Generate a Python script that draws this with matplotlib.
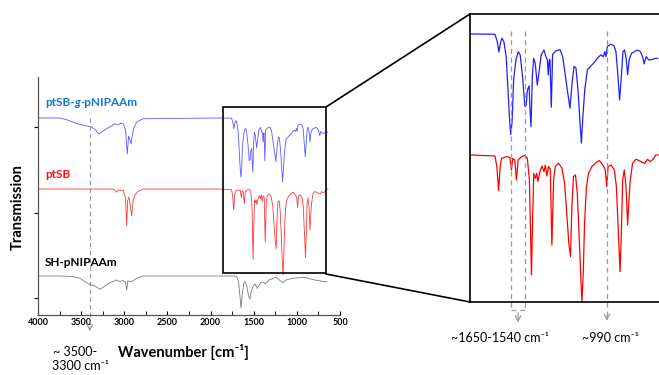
import matplotlib
matplotlib.use("Agg")
import matplotlib.pyplot as plt
from matplotlib.patches import Rectangle
from matplotlib.lines import Line2D

plt.rcParams["font.family"] = ["Lato", "DejaVu Sans"]

# spectra: wavenumber [cm-1] and relative transmission (%), baseline = 100
blue_wn = [4000, 3745, 3668, 3547, 3475, 3378, 3330, 3300, 3260, 3204, 3107, 3070,
           3040, 3010, 2985, 2965, 2950, 2940, 2922, 2905, 2890, 2856, 2780, 1928,
           1757, 1741, 1730, 1719, 1709, 1696, 1680, 1669, 1658, 1649, 1640, 1629,
           1613, 1597, 1584, 1568, 1552, 1543, 1535, 1523, 1517, 1510, 1501, 1492,
           1481, 1467, 1453, 1440, 1421, 1408, 1398, 1392, 1386, 1380, 1371, 1362,
           1341, 1311, 1293, 1277, 1261, 1243, 1229, 1215, 1202, 1188, 1174, 1165,
           1156, 1142, 1124, 1101, 1078, 1055, 1032, 1014, 1005, 996, 987, 964,
           941, 928, 914, 903, 891, 880, 869, 857, 848, 837, 821, 801,
           782, 760, 746, 735, 721, 703, 680, 658, 642]
blue_t = [100, 100, 98.3, 94.3, 92.7, 91, 88, 84, 86, 89.3, 94.3, 93,
          95, 94, 88, 64, 82, 80, 74, 84, 90, 96, 99.3, 100,
          99.8, 95.5, 89.4, 94.8, 97.5, 95.5, 86.7, 69, 51.5, 41, 48, 73,
          85, 89.6, 87.7, 75, 57.4, 58, 67, 69.5, 55.4, 45.6, 75, 85.7,
          82.8, 70, 79, 87.7, 90.6, 86.7, 84.8, 76, 84, 85, 57, 88,
          90, 90.8, 86.7, 77, 67, 56.4, 71, 81, 80, 67, 47.6, 36,
          49.5, 67, 79, 81, 83.2, 85.7, 87.7, 86.7, 89.6, 86.7, 92.6, 94,
          93, 89.6, 75, 61.3, 75, 89.6, 90.6, 85, 76, 85, 88.7, 89.6,
          90.6, 89.6, 86.7, 82.4, 86.7, 84.7, 85, 85.7, 85.7]

red_wn = [4000, 3130, 3100, 3088, 3075, 3010, 2985, 2972, 2962, 2945, 2925, 2914,
          2900, 2876, 2850, 2818, 2780, 1928, 1757, 1744, 1732, 1721, 1712, 1678,
          1655, 1644, 1635, 1621, 1610, 1598, 1576, 1553, 1535, 1521, 1507, 1498,
          1491, 1480, 1471, 1462, 1449, 1435, 1421, 1412, 1401, 1390, 1378, 1367,
          1355, 1344, 1321, 1298, 1280, 1262, 1251, 1239, 1230, 1219, 1205, 1193,
          1180, 1168, 1161, 1152, 1143, 1130, 1116, 1093, 1064, 1041, 1018, 1002,
          991, 982, 961, 939, 925, 911, 900, 891, 882, 871, 859, 848,
          839, 830, 814, 791, 769, 746, 730, 712, 694, 673, 655, 639]
red_t = [100, 100, 98, 96.7, 99, 98.5, 90, 63, 88, 92, 80, 73,
         88, 94, 97, 98.5, 100, 100, 99.4, 93.2, 79.1, 93.2, 98, 99,
         98.6, 91.2, 98, 97, 85.3, 97, 99, 99.6, 98, 85.3, 29.6, 66,
         89.2, 86.3, 89.2, 84.4, 90.2, 93.5, 90.2, 94.1, 87.7, 93.2, 91.6, 47,
         85.3, 93.2, 95.1, 92.2, 83.4, 62, 48.2, 40.3, 70, 87.3, 88.3, 77.5,
         52, 26.7, 14, 30.5, 60, 81.4, 89.2, 93.2, 95.5, 96.7, 94.1, 91.6,
         81.4, 93.2, 94.1, 91.2, 81.4, 54, 31.5, 54, 85.3, 91.2, 81.4, 59,
         73.6, 85.3, 95.1, 97.5, 96.7, 95.5, 95.1, 97.5, 96.1, 97.5, 100, 100]

gray_wn = [4000, 3745, 3600, 3513, 3397, 3350, 3281, 3223, 3166, 3088, 3050, 3020,
           2985, 2972, 2960, 2914, 2856, 2779, 1720, 1697, 1675, 1660, 1647, 1635,
           1615, 1601, 1580, 1560, 1543, 1530, 1505, 1485, 1458, 1420, 1380, 1366,
           1323, 1240, 1164, 1124, 1050, 910, 793, 676, 650]
gray_t = [100, 100, 99.5, 97.7, 91, 90.5, 86.7, 90, 93.3, 96, 94.3, 95.5,
          94, 86, 95, 94.3, 97.7, 100, 100, 99.3, 94, 80, 68, 80,
          93, 94.3, 90, 80, 77, 84, 90, 92, 87.7, 93.3, 93.3, 92,
          96, 98.7, 93.3, 96, 97.7, 98.7, 96, 94.3, 94.3]

names = ["ptSB-", "g", "-pNIPAAm"]
marked_wn = [1649, 1548, 990]

W, H = 659, 375
fig = plt.figure(figsize=(W / 100, H / 100), dpi=100)

def box(l, t, r, b):
    return [l / W, 1 - b / H, (r - l) / W, (b - t) / H]

# vertical stacking of the three spectra (axis units ~ pixels)
off_b, off_r, off_g = 97, 26, -61

ax = fig.add_axes(box(38, 77, 340, 315))
ax.plot(blue_wn, [v + off_b for v in blue_t], color="#5a5aff", lw=0.6)
ax.plot(red_wn, [v + off_r for v in red_t], color="#ff3a3a", lw=0.6)
ax.plot(gray_wn, [v + off_g for v in gray_t], color="#7a7a7a", lw=0.6)

ax.set_xlim(4000, 500)
ax.set_ylim(0, 238)
ax.set_xticks(range(4000, 499, -500))
ax.set_xticks(range(3750, 500, -500), minor=True)
ax.set_yticks([17, 102, 188])
ax.set_yticklabels([])
ax.tick_params(axis="x", which="both", direction="in", length=3, labelsize=6.5, pad=2)
ax.tick_params(axis="y", direction="out", length=3)
for lab in ax.get_xticklabels():
    lab.set_fontweight("bold")
for s in ["top", "right"]:
    ax.spines[s].set_visible(False)
for s in ["left", "bottom"]:
    ax.spines[s].set_color("#555555")
    ax.spines[s].set_linewidth(0.9)

# dashed marker at ~3400
ax.plot([3400, 3400], [197, -14], ls=(0, (4, 3)), color="#999999", lw=0.8, clip_on=False)
ax.annotate("", xy=(3400, -19), xytext=(3400, -10),
            arrowprops=dict(arrowstyle="->", color="#999999", lw=0.8), annotation_clip=False)

# zoom box
ax.add_patch(Rectangle((1856, 42), 662 - 1856, 208 - 42, fill=False, ec="black", lw=1.2,
                       clip_on=False, zorder=5))

# labels
t1 = fig.text(45 / W, 1 - 103 / H, names[0], color="#1478d2", fontsize=8.5,
              fontweight="bold", va="center")
t2 = fig.text(0, 0, names[1], color="#1478d2", fontsize=8.5, fontweight="bold",
              style="italic", va="bottom")
t3 = fig.text(0, 0, names[2], color="#1478d2", fontsize=8.5, fontweight="bold", va="bottom")
fig.text(45 / W, 1 - 175 / H, "ptSB", color="#ff1010", fontsize=8.5, fontweight="bold", va="center")
fig.text(45 / W, 1 - 262 / H, "SH-pNIPAAm", color="black", fontsize=8.5, fontweight="bold", va="center")
fig.text(18 / W, 1 - 207 / H, "Transmission", rotation=90, fontsize=10.5, fontweight="bold",
         ha="center", va="center")
fig.text(183 / W, 1 - 352 / H, "Wavenumber [cm⁻¹]", fontsize=10.5, fontweight="bold",
         ha="center", va="center")
fig.text(75 / W, 1 - 352 / H, "~ 3500-", fontsize=9, ha="center", va="center")
fig.text(80 / W, 1 - 366 / H, "3300 cm⁻¹", fontsize=9, ha="center", va="center")

# inset
ins = fig.add_axes(box(470, 14, 659, 302))
ins.plot(blue_wn, [v + off_b for v in blue_t], color="#2020ff", lw=0.9)
ins.plot(red_wn, [v + off_r for v in red_t], color="#ff0000", lw=0.9)
ins.set_xlim(1928, 633)
ins.set_ylim(39.7, 208.7)
ins.set_xticks([])
ins.set_yticks([])
ins.spines["right"].set_visible(False)
for s in ["left", "top", "bottom"]:
    ins.spines[s].set_linewidth(1.2)

dash = dict(ls=(0, (4, 3)), color="#999999", lw=0.9, clip_on=False)
ins.plot([marked_wn[0], marked_wn[0]], [199, 35], **dash)
ins.plot([marked_wn[1], marked_wn[1]], [199, 35], **dash)
ins.plot([marked_wn[0], marked_wn[1]], [35, 35], **dash)
ins.plot([marked_wn[2], marked_wn[2]], [199, 31], **dash)
mid = (marked_wn[0] + marked_wn[1]) / 2
ins.annotate("", xy=(mid, 26), xytext=(mid, 35),
             arrowprops=dict(arrowstyle="->", color="#999999", lw=0.9), annotation_clip=False)
ins.annotate("", xy=(marked_wn[2], 27), xytext=(marked_wn[2], 33),
             arrowprops=dict(arrowstyle="->", color="#999999", lw=0.9), annotation_clip=False)
fig.text(500 / W, 1 - 338 / H, "~1650-1540 cm⁻¹", fontsize=9, ha="center", va="center")
fig.text(610 / W, 1 - 338 / H, "~990 cm⁻¹", fontsize=9, ha="center", va="center")

# connector lines from box to inset
fig.add_artist(Line2D([326 / W, 470 / W], [1 - 107 / H, 1 - 14 / H], color="black", lw=1.2))
fig.add_artist(Line2D([326 / W, 470 / W], [1 - 274 / H, 1 - 302 / H], color="black", lw=1.2))

# place italic "g" pieces of the label
fig.canvas.draw()
r = fig.canvas.get_renderer()
bb = t1.get_window_extent(r)
x0 = bb.x1 / fig.bbox.width
y0 = bb.y0 / fig.bbox.height
t2.set_position((x0, y0))
bb2 = t2.get_window_extent(r)
t3.set_position((bb2.x1 / fig.bbox.width, y0))

fig.savefig("out.png", dpi=100)
